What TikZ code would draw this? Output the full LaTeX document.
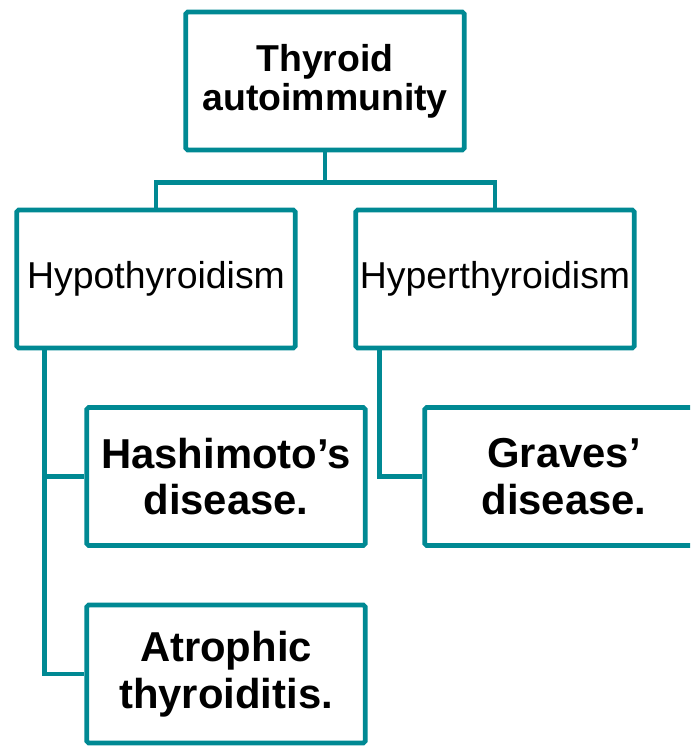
\documentclass[tikz,border=0pt]{standalone}
\usepackage{fontspec}
\setmainfont{Liberation Sans}
\usepackage{xcolor}
\usepackage{tikz}
\definecolor{tealline}{RGB}{0,137,147}
\begin{document}
\begin{tikzpicture}[x=0.02cm, y=-0.02cm,
    box/.style={draw=tealline, line width=2.6pt, rounded corners=1pt, fill=white, align=center, minimum width=5.57cm, minimum height=2.76cm, inner sep=0pt},
    title/.style={font=\bfseries\fontsize{21.3}{22}\selectfont},
    plain/.style={font=\fontsize{21.3}{24}\selectfont},
    leaf/.style={font=\bfseries\fontsize{23.8}{26.5}\selectfont},
    link/.style={draw=tealline, line width=2.6pt}]
    \useasboundingbox (0,0) rectangle (690,747);
    \clip (0,0) rectangle (690,747);
    \node[box, title] (top) at (325,81) {Thyroid\\autoimmunity};
    \node[box, plain] (hypo) at (156,279) {Hypothyroidism};
    \node[box, plain] (hyper) at (495,279) {Hyperthyroidism};
    \node[box, leaf] (hash) at (226,476.5) {Hashimoto’s\\disease.};
    \node[box, leaf] (graves) at (564,476.5) {Graves’\\disease.};
    \node[box, leaf] (atro) at (226,674) {Atrophic\\thyroiditis.};
    \draw[link] (top.south) -- ++(0,30) -| (hypo.north);
    \draw[link] (top.south) -- ++(0,30) -| (hyper.north);
    \draw[link] ([xshift=0.6cm]hypo.south west) |- (hash.west);
    \draw[link] ([xshift=0.6cm]hypo.south west) |- (atro.west);
    \draw[link] ([xshift=0.52cm]hyper.south west) |- (graves.west);
\end{tikzpicture}
\end{document}
